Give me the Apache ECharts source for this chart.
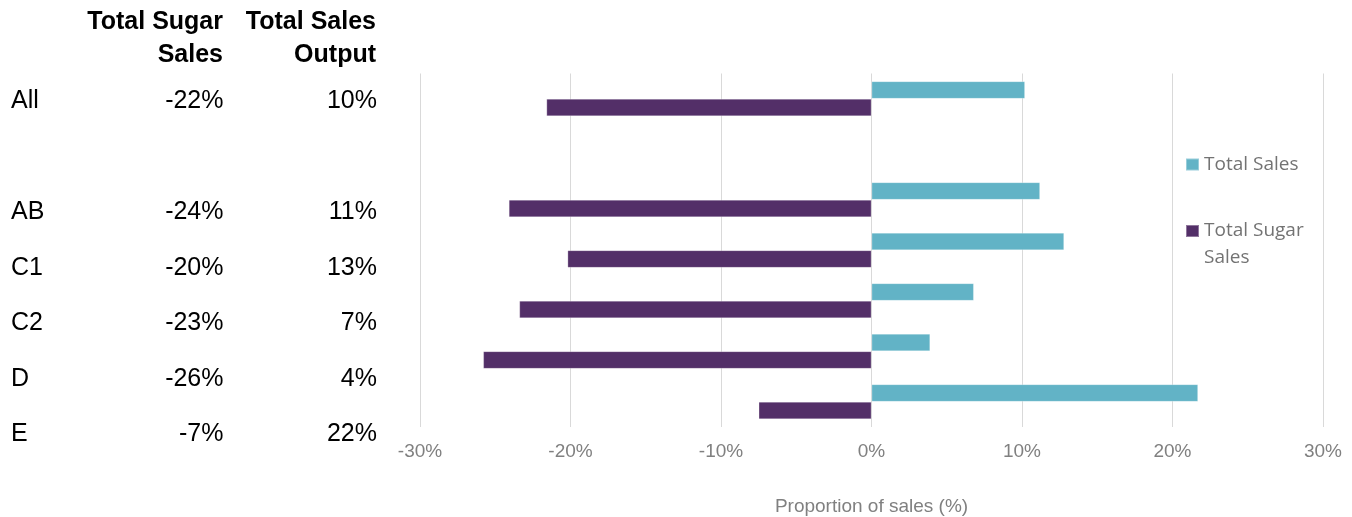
<!DOCTYPE html>
<html>
<head>
<meta charset="utf-8">
<script src="https://cdn.jsdelivr.net/npm/echarts@6/dist/echarts.min.js"></script>
<style>
  html, body { margin: 0; padding: 0; background: #fff; }
  #chart { width: 1352px; height: 517px; }
</style>
</head>
<body>
<div id="chart"></div>
<script>
// ---- Data ----
const categories = ['All', '', 'AB', 'C1', 'C2', 'D', 'E'];
const totalSales = [10.2, null, 11.2, 12.8, 6.8, 3.9, 21.7];
const totalSugarSales = [-21.6, null, -24.1, -20.2, -23.4, -25.8, -7.5];
const sugarTableLabels = ['-22%', '', '-24%', '-20%', '-23%', '-26%', '-7%'];
const outputTableLabels = ['10%', '', '11%', '13%', '7%', '4%', '22%'];
const xTicks = { min: -30, max: 30, interval: 10 };

const tealColor = '#62B3C6';
const purpleColor = '#532F68';
const tableFont = { fontFamily: 'Liberation Sans, Arial, sans-serif', fontSize: 25, color: '#000' };

const chart = echarts.init(document.getElementById('chart'));

chart.setOption({
  animation: false,
  backgroundColor: '#fff',
  grid: [
    { left: 420, right: 29, top: 73.5, bottom: 90, containLabel: false, outerBoundsMode: 'none' },
    { left: 377, width: 1, top: 73.5, height: 388.5, containLabel: false, outerBoundsMode: 'none' }
  ],
  graphic: [
    {
      type: 'text', x: 223, y: 6,
      style: { text: 'Total Sugar\nSales', align: 'right', verticalAlign: 'top',
        font: 'bold 25px "Liberation Sans", Arial, sans-serif', lineHeight: 32.6, fill: '#000' }
    },
    {
      type: 'text', x: 376, y: 6,
      style: { text: 'Total Sales\nOutput', align: 'right', verticalAlign: 'top',
        font: 'bold 25px "Liberation Sans", Arial, sans-serif', lineHeight: 32.6, fill: '#000' }
    }
  ],
  legend: [
    {
      data: ['Total Sales'],
      orient: 'vertical', left: 1185, top: 151, padding: 0,
      itemWidth: 13, itemHeight: 12, icon: 'rect',
      textStyle: { fontFamily: 'Open Sans, sans-serif', fontSize: 19, color: '#737373', lineHeight: 27 }
    },
    {
      data: ['Total Sugar Sales'],
      orient: 'vertical', left: 1185, top: 190.5, padding: 0,
      itemWidth: 13, itemHeight: 12, icon: 'rect',
      formatter: function (n) { return n === 'Total Sugar Sales' ? '\nTotal Sugar\nSales' : n; },
      textStyle: { fontFamily: 'Open Sans, sans-serif', fontSize: 19, color: '#737373', lineHeight: 27 }
    }
  ],
  xAxis: [
    {
      type: 'value', gridIndex: 0,
      min: xTicks.min, max: xTicks.max, interval: xTicks.interval,
      axisLine: { show: false }, axisTick: { show: false },
      splitLine: { show: true, lineStyle: { color: '#d9d9d9', width: 1 } },
      axisLabel: { formatter: '{value}%', color: '#808080', fontSize: 19,
        fontFamily: 'Liberation Sans, Arial, sans-serif', margin: 15 },
      name: 'Proportion of sales (%)', nameLocation: 'middle', nameGap: 70,
      nameTextStyle: { color: '#808080', fontSize: 19, fontFamily: 'Liberation Sans, Arial, sans-serif' }
    },
    {
      type: 'value', gridIndex: 1, show: false, min: 0, max: 1
    }
  ],
  yAxis: [
    {
      type: 'category', gridIndex: 0, data: categories, inverse: true,
      axisLine: { show: false }, axisTick: { show: false }, axisLabel: { show: false },
      splitLine: { show: false }
    },
    {
      type: 'category', gridIndex: 1, data: categories, inverse: true, position: 'left', offset: 0,
      axisLine: { show: false }, axisTick: { show: false }, splitLine: { show: false },
      axisLabel: Object.assign({ interval: 0, margin: 0, formatter: function (v, i) { return outputTableLabels[i]; } }, tableFont)
    },
    {
      type: 'category', gridIndex: 1, data: categories, inverse: true, position: 'left', offset: 153.5,
      axisLine: { show: false }, axisTick: { show: false }, splitLine: { show: false },
      axisLabel: Object.assign({ interval: 0, margin: 0, formatter: function (v, i) { return sugarTableLabels[i]; } }, tableFont)
    },
    {
      type: 'category', gridIndex: 1, data: categories, inverse: true, position: 'left', offset: 366,
      axisLine: { show: false }, axisTick: { show: false }, splitLine: { show: false },
      axisLabel: Object.assign({ interval: 0, margin: 0, align: 'left', formatter: function (v) { return v; } }, tableFont)
    }
  ],
  series: [
    {
      name: 'Total Sales', type: 'bar', xAxisIndex: 0, yAxisIndex: 0,
      data: totalSales, barWidth: 17.5, barGap: '0%',
      itemStyle: { color: tealColor, borderColor: 'rgba(255,255,255,0.35)', borderWidth: 0.8 }
    },
    {
      name: 'Total Sugar Sales', type: 'bar', xAxisIndex: 0, yAxisIndex: 0,
      data: totalSugarSales, barWidth: 17.5, barGap: '0%',
      itemStyle: { color: purpleColor, borderColor: 'rgba(255,255,255,0.35)', borderWidth: 0.8 }
    }
  ]
});
</script>
</body>
</html>
